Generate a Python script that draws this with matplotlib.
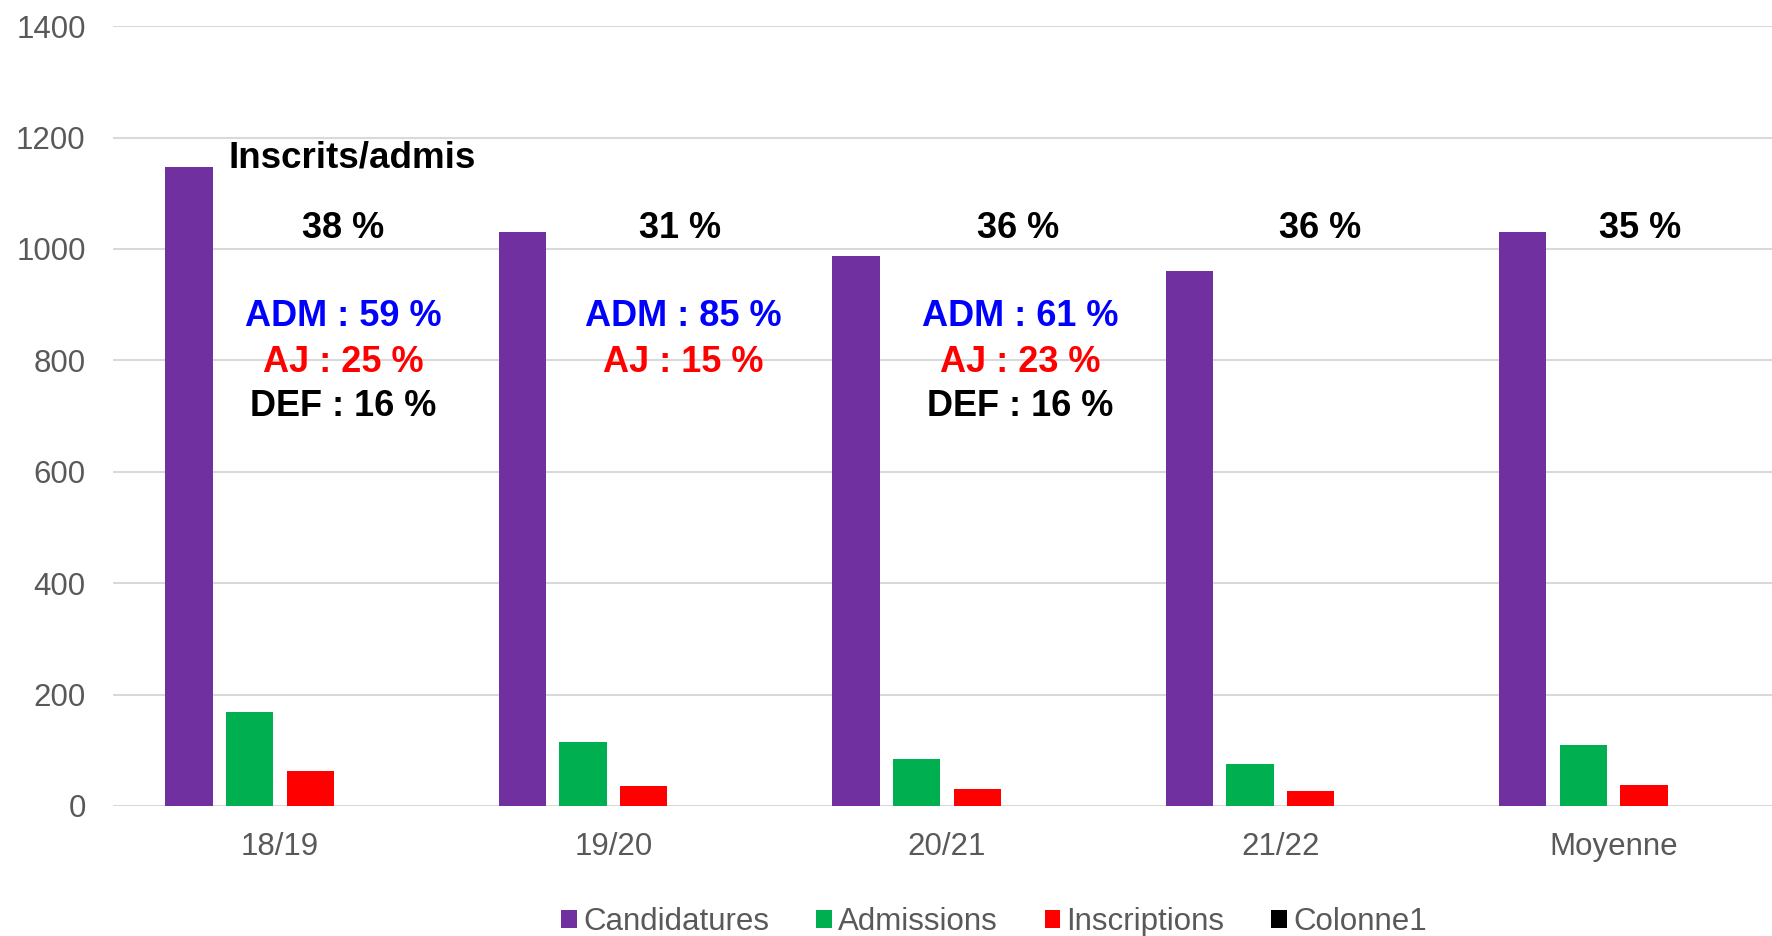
import matplotlib.pyplot as plt
import numpy as np
from matplotlib.patches import Patch

plt.rcParams['font.family'] = ['Liberation Sans', 'DejaVu Sans']

# Data
categories = ['18/19', '19/20', '20/21', '21/22', 'Moyenne']
candidatures = [1148, 1030, 988, 961, 1031]
admissions = [168, 114, 84, 76, 110]
inscriptions = [62, 35, 30, 26, 38]
colonne1 = [0, 0, 0, 0, 0]
series_names = ['Candidatures', 'Admissions', 'Inscriptions', 'Colonne1']
colors = ['#7030A0', '#00B050', '#FF0000', '#000000']

ratio_labels = ['38 %', '31 %', '36 %', '36 %', '35 %']
adm_labels = ['ADM : 59 %', 'ADM : 85 %', 'ADM : 61 %', None, None]
aj_labels = ['AJ : 25 %', 'AJ : 15 %', 'AJ : 23 %', None, None]
def_labels = ['DEF : 16 %', None, 'DEF : 16 %', None, None]

fig = plt.figure(figsize=(17.72, 9.36), dpi=100)
ax = fig.add_axes([0.064, 0.139, 0.9407, 0.833])

x = np.arange(len(categories))
step = 0.182
width = 0.142
all_series = [candidatures, admissions, inscriptions, colonne1]
for i, (vals, col) in enumerate(zip(all_series, colors)):
    ax.bar(x + (i - 1.5) * step, vals, width=width, color=col, zorder=3)

ax.set_xlim(-0.5, len(categories) - 0.5)
ax.set_ylim(0, 1400)
ax.set_yticks(range(0, 1401, 200))
ax.set_xticks(x)
ax.set_xticklabels(categories)
ax.grid(axis='y', color='#d9d9d9', linewidth=1.5, zorder=0)
for s in ax.spines.values():
    s.set_visible(False)
ax.tick_params(axis='both', length=0, labelsize=22.5, labelcolor='#595959')
ax.tick_params(axis='y', pad=20)
ax.tick_params(axis='x', pad=19)

# Annotations
ax.text(-0.154, 1163, 'Inscrits/admis', fontsize=26.5, fontweight='bold',
        ha='left', va='center', zorder=5)
ratio_x = [0.188, 1.20, 2.215, 3.12, 4.08]
for xi, lab in zip(ratio_x, ratio_labels):
    ax.text(xi, 1037, lab, fontsize=26, fontweight='bold', ha='center', va='center')

detail_x = [0.19, 1.21, 2.22]
for i, xi in enumerate(detail_x):
    if adm_labels[i]:
        ax.text(xi, 878, adm_labels[i], fontsize=26, fontweight='bold', color='#0000FF',
                ha='center', va='center')
    if aj_labels[i]:
        ax.text(xi, 797, aj_labels[i], fontsize=26, fontweight='bold', color='#FF0000',
                ha='center', va='center')
    if def_labels[i]:
        ax.text(xi, 718, def_labels[i], fontsize=26, fontweight='bold', color='#000000',
                ha='center', va='center')

handles = [Patch(facecolor=c, label=n) for c, n in zip(colors, series_names)]
leg = fig.legend(handles=handles, loc='center', bbox_to_anchor=(0.561, 0.015), ncol=4,
                 frameon=False, fontsize=22.5, handlelength=0.5, handleheight=0.5,
                 handletextpad=0.2, columnspacing=1.5, borderaxespad=0)
for t in leg.get_texts():
    t.set_color('#595959')

plt.savefig('out.png', dpi=100)
